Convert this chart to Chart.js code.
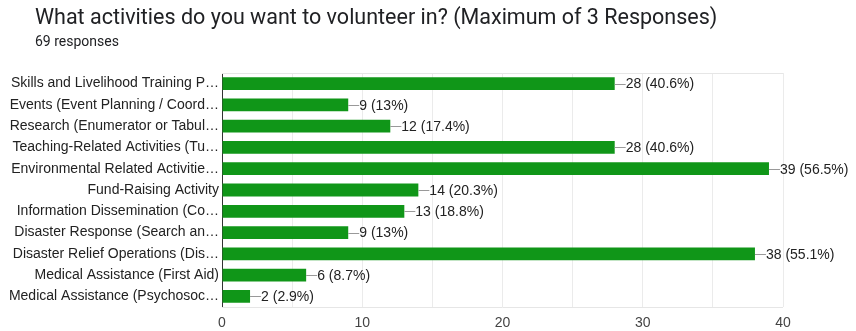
<!DOCTYPE html>
<html>
<head>
<meta charset="utf-8">
<script src="https://cdn.jsdelivr.net/npm/chart.js@4.4.0/dist/chart.umd.min.js"></script>
<style>
  html, body { margin: 0; padding: 0; background: #fff; }
  .wrap { position: relative; width: 856px; height: 331px; overflow: hidden; }
  .title { position: absolute; left: 35px; top: 4px; font: 21.5px Roboto, Arial, sans-serif; color: #202124; white-space: nowrap; }
  .sub { position: absolute; left: 35px; top: 33px; font: 14px Roboto, Arial, sans-serif; color: #202124; }
  canvas { position: absolute; left: 0; top: 0; }
</style>
</head>
<body>
<div class="wrap">
  <canvas id="myChart" width="856" height="331"></canvas>
  <div class="title">What activities do you want to volunteer in? (Maximum of 3 Responses)</div>
  <div class="sub">69 responses</div>
</div>
<script>
// DADOS DO GRÁFICO
const totalResponses = 69;
const categories = [
  "Skills and Livelihood Training P…",
  "Events (Event Planning / Coord…",
  "Research (Enumerator or Tabul…",
  "Teaching-Related Activities (Tu…",
  "Environmental Related Activitie…",
  "Fund-Raising Activity",
  "Information Dissemination (Co…",
  "Disaster Response (Search an…",
  "Disaster Relief Operations (Dis…",
  "Medical Assistance (First Aid)",
  "Medical Assistance (Psychosoc…",
];
const counts = [28, 9, 12, 28, 39, 14, 13, 9, 38, 6, 2];
const tickLabels = [0, 10, 20, 30, 40];

const pct = (n) => {
  const p = Math.round((n / totalResponses) * 1000) / 10;
  return (p % 1 === 0 ? p.toFixed(0) : p.toFixed(1)) + "%";
};

const FONT = "'Liberation Sans', Arial, sans-serif";

// MOLDURA CINZA DA ÁREA DO GRÁFICO
const plotFrame = {
  id: "plotFrame",
  beforeDatasetsDraw(chart) {
    const { ctx, chartArea: a } = chart;
    ctx.save();
    ctx.strokeStyle = "#e6e6e6";
    ctx.lineWidth = 1;
    ctx.beginPath();
    ctx.moveTo(a.left, Math.round(a.top) + 0.5);
    ctx.lineTo(a.right, Math.round(a.top) + 0.5);
    ctx.moveTo(a.left, Math.round(a.bottom) + 0.5);
    ctx.lineTo(a.right, Math.round(a.bottom) + 0.5);
    ctx.stroke();
    ctx.restore();
  },
};

// RÓTULOS DE VALOR AO LADO DAS BARRAS
const valueLabels = {
  id: "valueLabels",
  afterDatasetsDraw(chart) {
    const ctx = chart.ctx;
    const meta = chart.getDatasetMeta(0);
    ctx.save();
    ctx.font = "14px " + FONT;
    ctx.textBaseline = "middle";
    meta.data.forEach((bar, i) => {
      const x = bar.x;
      const y = bar.y;
      ctx.strokeStyle = "#999";
      ctx.lineWidth = 1;
      ctx.beginPath();
      ctx.moveTo(x, Math.round(y) + 0.5);
      ctx.lineTo(x + 11, Math.round(y) + 0.5);
      ctx.stroke();
      ctx.fillStyle = "#222";
      ctx.fillText(counts[i] + " (" + pct(counts[i]) + ")", x + 11, y + 1);
    });
    ctx.restore();
  },
};

const ctx = document.getElementById("myChart");
new Chart(ctx, {
  type: "bar",
  data: {
    labels: categories,
    datasets: [
      {
        data: counts,
        backgroundColor: "#109618",
        borderWidth: 0,
        barPercentage: 0.6,
        categoryPercentage: 1,
      },
    ],
  },
  plugins: [plotFrame, valueLabels],
  options: {
    indexAxis: "y",
    responsive: false,
    animation: false,
    layout: { padding: { top: 73, right: 73, left: 0, bottom: 0 } },
    plugins: {
      legend: { display: false },
      tooltip: { enabled: false },
    },
    scales: {
      x: {
        min: 0,
        max: 40,
        ticks: {
          stepSize: 5,
          color: "#444",
          font: { family: FONT, size: 14 },
          callback: (v) => (tickLabels.includes(v) ? v : ""),
          padding: 8,
        },
        grid: { color: "#ebebeb", drawTicks: false },
        border: { display: false },
        afterFit: (scale) => { scale.height = 24; },
      },
      y: {
        ticks: {
          color: "#222",
          font: { family: FONT, size: 14 },
          padding: 3,
          autoSkip: false,
        },
        grid: { display: false, drawTicks: false },
        border: { color: "#333", width: 1 },
        afterFit: (scale) => { scale.width = 222; },
      },
    },
  },
});
</script>
</body>
</html>
